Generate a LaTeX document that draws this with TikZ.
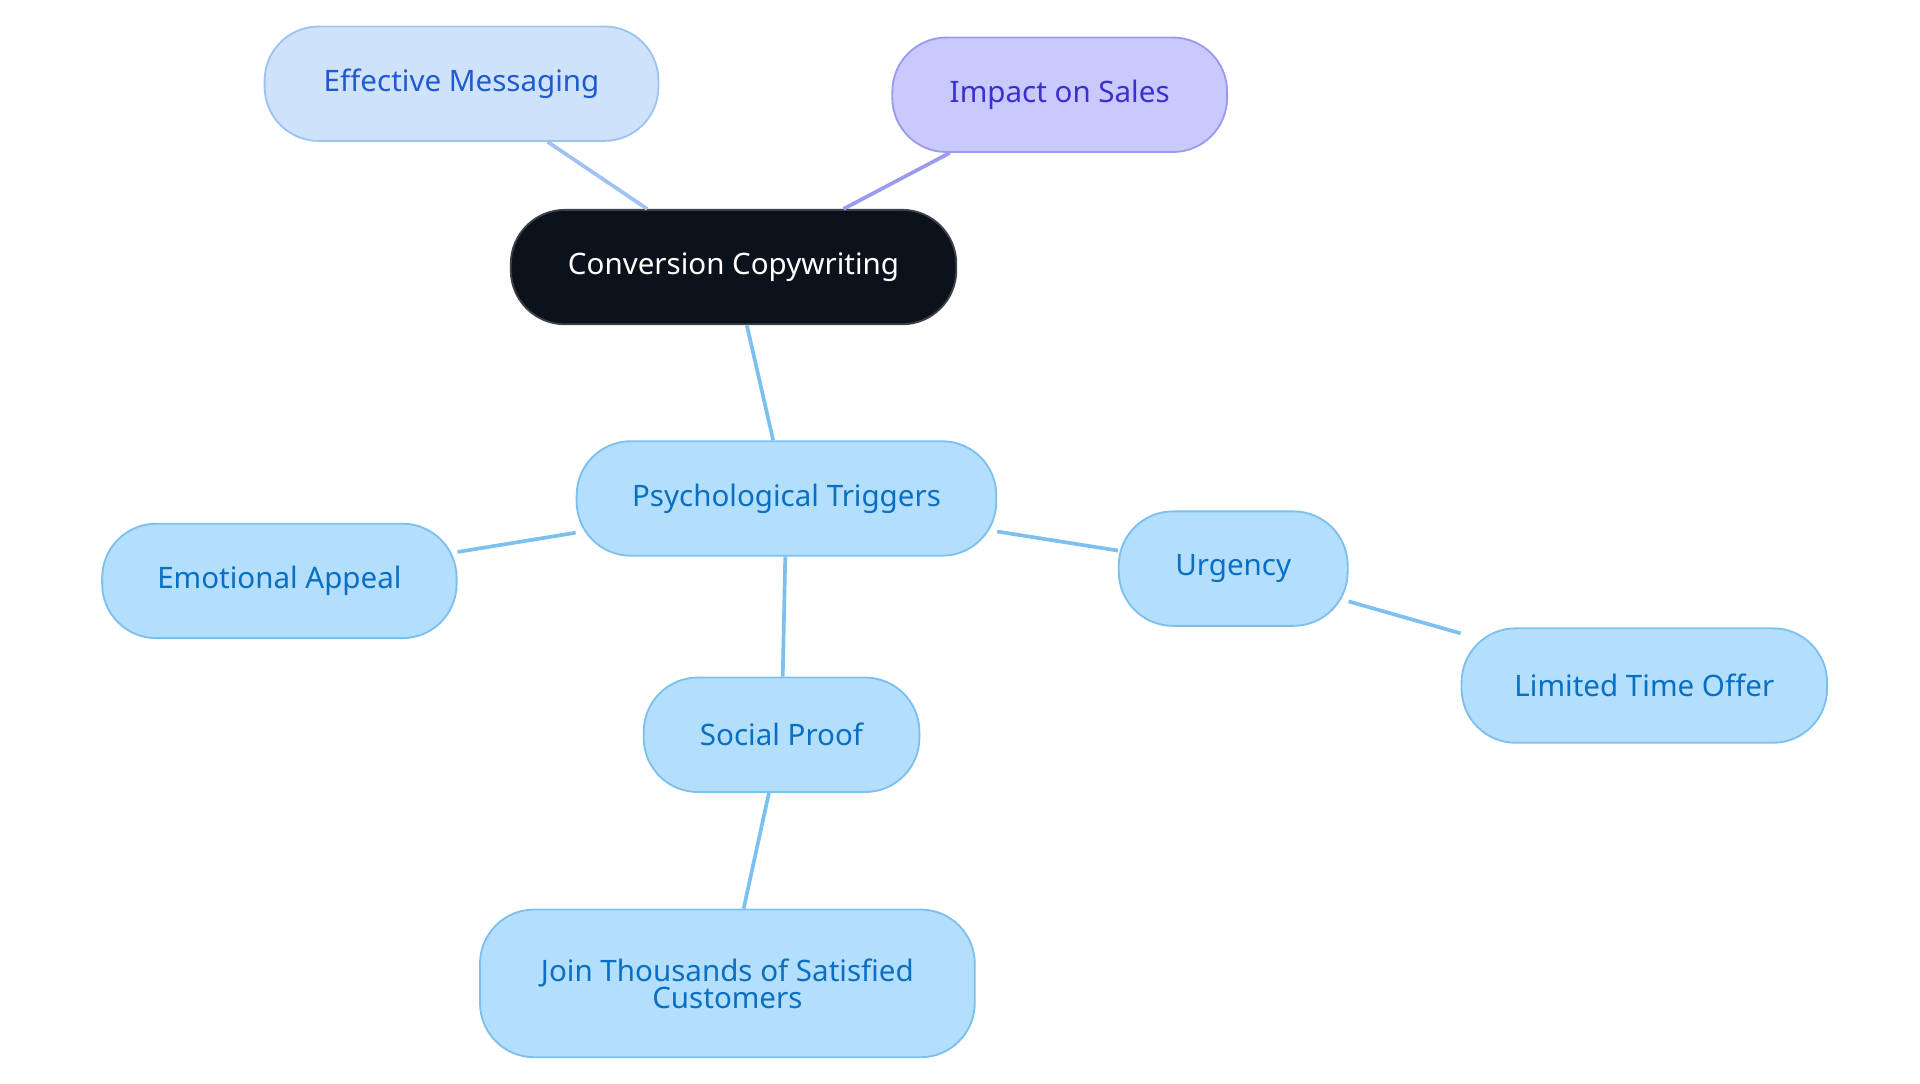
\documentclass[tikz,border=0pt]{standalone}
\usepackage{fontspec}
\setmainfont{Noto Sans}
\definecolor{bfill}{HTML}{B3DFFC}
\definecolor{bdraw}{HTML}{7CC0EF}
\definecolor{btext}{HTML}{0A6FC2}
\definecolor{lfill}{HTML}{CFE2FB}
\definecolor{ldraw}{HTML}{9FC3F0}
\definecolor{ltext}{HTML}{1E5BD0}
\definecolor{pfill}{HTML}{C9C9FD}
\definecolor{pdraw}{HTML}{9A9AF0}
\definecolor{ptext}{HTML}{3A2FD0}
\definecolor{dark}{HTML}{0C121C}
\begin{document}
\begin{tikzpicture}[x=1pt,y=-1pt,
  box/.style={draw=bdraw,fill=bfill,text=btext,line width=1.5pt,rounded corners=44pt,minimum height=93pt,font=\fontsize{24}{28}\selectfont,align=center,inner sep=0pt},
  edge/.style={draw=bdraw,line width=3pt}]
\useasboundingbox (0,0) rectangle (1560,880);
\node[box,minimum width=362pt,fill=dark,draw=dark!80,text=white] (c) at (596,217) {Conversion Copywriting};
\node[box,minimum width=320pt,fill=lfill,draw=ldraw,text=ltext] (e) at (375,68) {Effective Messaging};
\node[box,minimum width=272pt,fill=pfill,draw=pdraw,text=ptext] (i) at (861,77) {Impact on Sales};
\node[box,minimum width=341pt] (p) at (639,405) {Psychological Triggers};
\node[box,minimum width=288pt] (em) at (227,472) {Emotional Appeal};
\node[box,minimum width=186pt] (u) at (1002,462) {Urgency};
\node[box,minimum width=297pt] (l) at (1336,557) {Limited Time Offer};
\node[box,minimum width=224pt] (s) at (635,597) {Social Proof};
\node[box,minimum width=402pt,minimum height=120pt] (j) at (591,799) {Join Thousands of Satisfied\\[-6pt]Customers};
\begin{scope}[on background layer/.style={}]
\end{scope}
\draw[edge,draw=ldraw] (c) -- (e);
\draw[edge,draw=pdraw] (c) -- (i);
\draw[edge] (c) -- (p);
\draw[edge] (p) -- (em);
\draw[edge] (p) -- (u);
\draw[edge] (u) -- (l);
\draw[edge] (p) -- (s);
\draw[edge] (s) -- (j);
\end{tikzpicture}
\end{document}
